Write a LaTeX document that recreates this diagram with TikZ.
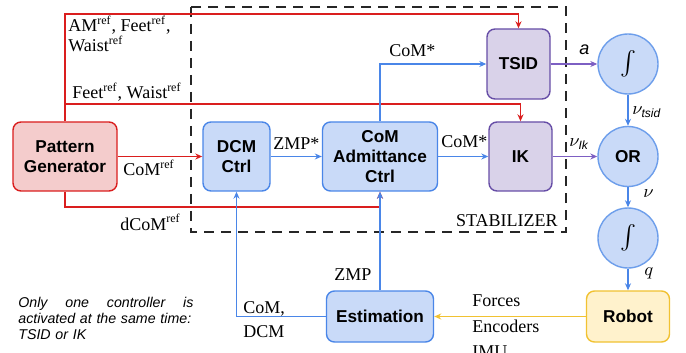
\documentclass[tikz,border=0pt]{standalone}
\usepackage{amsmath}
\usepackage{fontspec}
\setmainfont{Liberation Serif}
\setsansfont{Liberation Sans}
\usetikzlibrary{arrows.meta, positioning}

\definecolor{refred}{RGB}{218,30,30}
\definecolor{pgfill}{RGB}{244,204,204}
\definecolor{ctrlblue}{RGB}{74,134,232}
\definecolor{ctrlfill}{RGB}{201,218,248}
\definecolor{tskpurple}{RGB}{103,78,167}
\definecolor{tskfill}{RGB}{217,210,233}
\definecolor{tskline}{RGB}{125,95,195}
\definecolor{robyellow}{RGB}{241,194,50}
\definecolor{robfill}{RGB}{255,242,204}
\definecolor{intblue}{RGB}{109,158,235}

\tikzset{
  block/.style={rectangle, rounded corners=4pt, draw, line width=0.7pt,
    align=center, inner sep=0pt,
    font=\fontsize{8.6}{10}\selectfont\sffamily\bfseries},
  refblock/.style={block, draw=refred, fill=pgfill},
  ctrlblock/.style={block, draw=ctrlblue, fill=ctrlfill},
  taskblock/.style={block, draw=tskpurple, fill=tskfill},
  robotblock/.style={block, draw=robyellow, fill=robfill},
  intnode/.style={circle, draw=intblue, fill=ctrlfill, line width=0.7pt,
    minimum size=30pt, inner sep=0pt,
    font=\fontsize{8.6}{10}\selectfont\sffamily\bfseries},
  refline/.style={draw=refred, line width=0.6pt},
  ctrlline/.style={draw=ctrlblue, line width=0.6pt},
  taskline/.style={draw=tskline, line width=0.6pt},
  sensline/.style={draw=robyellow, line width=0.6pt},
  stabbox/.style={draw=black!85, line width=1.1pt, dash pattern=on 5pt off 3.5pt},
  lbl/.style={inner sep=0pt, font=\fontsize{9}{12}\selectfont}
}

\begin{document}
\begin{tikzpicture}[x=0.5pt, y=-0.5pt, >={Stealth[length=3.5pt, width=3pt]}]
  \clip (0,0) rectangle (686,353);
  \fill[white] (0,0) rectangle (686,353);

  % stabilizer frame
  \draw[stabbox] (191,7) rectangle (566,232);
  \node[lbl, anchor=base east] (stablabel) at (558,227) {STABILIZER};

  % blocks
  \node[refblock, minimum width=52pt, minimum height=34.5pt] (pg) at (65,156.5) {Pattern\\Generator};
  \node[ctrlblock, minimum width=33.5pt, minimum height=34.5pt] (dcm) at (236.5,156.5) {DCM\\Ctrl};
  \node[ctrlblock, minimum width=57.5pt, minimum height=34.5pt] (adm) at (380,156.5) {CoM\\Admittance\\Ctrl};
  \node[taskblock, minimum width=31.5pt, minimum height=35pt] (tsid) at (518.5,64) {TSID};
  \node[taskblock, minimum width=31.5pt, minimum height=34.5pt] (ik) at (520.5,156.5) {IK};
  \node[intnode] (int1) at (628,64) {{\fontsize{12}{12}\selectfont$\int$}};
  \node[intnode] (or) at (628,156.5) {OR};
  \node[intnode] (int2) at (628,238) {{\fontsize{12}{12}\selectfont$\int$}};
  \node[robotblock, minimum width=41.5pt, minimum height=25.5pt] (robot) at (628,316.5) {Robot};
  \node[ctrlblock, minimum width=53.5pt, minimum height=25.5pt] (est) at (380,316.5) {Estimation};

  % rows of the reference lines
  \coordinate (amrow) at (0,14);
  \coordinate (feetrow) at (0,104);
  \coordinate (dcomrow) at (0,207);

  % references from the pattern generator
  \draw[refline, ->] (pg.north) |- (tsid.north |- amrow) -- (tsid.north);
  \draw[refline, ->] (pg.north |- feetrow) -| (ik.north);
  \draw[refline, ->] (pg.east) -- (dcm.west);
  \draw[refline, ->] (pg.south) |- (adm.south |- dcomrow) -- (adm.south);
  \node[lbl, anchor=base west, align=left, font=\fontsize{9}{10}\selectfont] at (68,52)
    {AM\textsuperscript{ref}, Feet\textsuperscript{ref},\\Waist\textsuperscript{ref}};
  \node[lbl, anchor=base west] at (72,99) {Feet\textsuperscript{ref}, Waist\textsuperscript{ref}};
  \node[lbl, anchor=base west] at (123,176) {CoM\textsuperscript{ref}};
  \node[lbl, anchor=base west] at (120,230) {dCoM\textsuperscript{ref}};

  % stabilizer chain
  \draw[ctrlline, ->] (dcm.east) -- (adm.west);
  \draw[ctrlline, ->] (adm.east) -- (ik.west);
  \draw[ctrlline, ->] (adm.north) |- (tsid.west);
  \node[lbl, anchor=base west] at (273,149) {ZMP*};
  \node[lbl, anchor=base west] at (441,148) {CoM*};
  \node[lbl, anchor=base west] at (389,57) {CoM*};

  % outputs and integration
  \draw[taskline, ->] (tsid.east) -- (int1.west);
  \draw[taskline, ->] (ik.east) -- (or.west);
  \draw[ctrlline, ->] (int1.south) -- (or.north);
  \draw[ctrlline, ->] (or.south) -- (int2.north);
  \draw[ctrlline, ->] (int2.south) -- (robot.north);
  \node[lbl, anchor=base west] at (579,55) {\textsf{\textit{a}}};
  \node[lbl, anchor=base west] at (569,147) {$\nu_{\textsf{\textit{Ik}}}$};
  \node[lbl, anchor=base west] at (632,115) {$\nu_{\textsf{\textit{tsid}}}$};
  \node[lbl, anchor=base west] at (643,198) {$\nu$};
  \node[lbl, anchor=base west] at (644,275) {$q$};

  % feedback
  \draw[sensline, ->] (robot.west) -- (est.east);
  \draw[ctrlline, ->] (est.west) -| (dcm.south);
  \draw[ctrlline, ->] (est.north) -- (adm.south);
  \node[lbl, anchor=base west, align=left, font=\fontsize{9}{12.5}\selectfont] at (472,357)
    {Forces\\Encoders\\IMU};
  \node[lbl, anchor=base west, align=left, font=\fontsize{9}{12}\selectfont] at (243,337)
    {CoM,\\DCM};
  \node[lbl, anchor=base west] at (334,280) {ZMP};

  % note
  \node[lbl, anchor=base west, align=left, text width=87.5pt,
    font=\fontsize{7.1}{8}\selectfont\sffamily\itshape] (note) at (18,307)
    {Only\hfill one\hfill controller\hfill is\\activated at the same time:\\TSID or IK};
\end{tikzpicture}
\end{document}
